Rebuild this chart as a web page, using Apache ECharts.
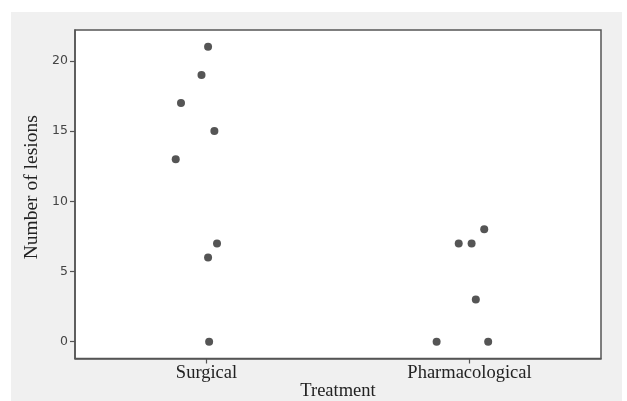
<!DOCTYPE html>
<html>
<head>
<meta charset="utf-8">
<script src="https://cdn.jsdelivr.net/npm/echarts@6/dist/echarts.min.js"></script>
<style>
html,body{margin:0;padding:0;background:#fff;}
#c{width:627px;height:401px;}
</style>
</head>
<body>
<div id="c"></div>
<script>
// Data
const categories = ['Surgical', 'Pharmacological'];
const surgicalValues = [21, 19, 17, 15, 13, 7, 6, 0];
const surgicalJitter = [0.006, -0.019, -0.097, 0.030, -0.117, 0.040, 0.006, 0.010];
const pharmValues = [8, 7, 7, 3, 0, 0];
const pharmJitter = [0.056, -0.041, 0.008, 0.024, -0.125, 0.071];
const yTicks = [0, 5, 10, 15, 20];

function pts(vals, jit, catIndex) {
  return vals.map((v, i) => [catIndex + 1 + jit[i], v]);
}

const chart = echarts.init(document.getElementById('c'), null, {renderer: 'canvas'});
const serif = '"Liberation Serif", "Times New Roman", serif';
const axisColor = '#555';
chart.setOption({
  animation: false,
  backgroundColor: '#fff',
  graphic: [{
    type: 'rect', z: -10, silent: true,
    shape: {x: 11, y: 12, width: 611, height: 389},
    style: {fill: '#f0f0f0'}
  }],
  grid: {
    left: 75, top: 30, right: 26, bottom: 42.5,
    containLabel: false, outerBoundsMode: 'none',
    show: true, backgroundColor: '#fff', borderColor: axisColor, borderWidth: 1.5
  },
  xAxis: {
    type: 'value', min: 0.5, max: 2.5, interval: 0.5,
    name: 'Treatment', nameLocation: 'middle', nameGap: 23, nameMoveOverlap: false,
    nameTextStyle: {fontFamily: serif, fontSize: 18.5, color: '#222'},
    splitLine: {show: false},
    axisLine: {show: true, onZero: false, lineStyle: {color: axisColor, width: 1.5}},
    axisTick: {show: true, length: 5, customValues: [1, 2], lineStyle: {color: axisColor, width: 1.2}},
    axisLabel: {
      customValues: [1, 2], margin: 5,
      fontFamily: serif, fontSize: 18.5, color: '#222',
      formatter: v => categories[Math.round(v) - 1] || ''
    }
  },
  yAxis: {
    type: 'value', min: -1.2, max: 22.2,
    name: 'Number of lesions', nameLocation: 'middle', nameGap: 33, nameRotate: 90, nameMoveOverlap: false,
    nameTextStyle: {fontFamily: serif, fontSize: 19.5, color: '#222', padding: [0, 0, 0, 14]},
    splitLine: {show: false},
    axisLine: {show: true, onZero: false, lineStyle: {color: axisColor, width: 1.5}},
    axisTick: {show: true, length: 5, customValues: yTicks, lineStyle: {color: axisColor, width: 1.2}},
    axisLabel: {
      customValues: yTicks, margin: 7,
      fontFamily: '"DejaVu Sans", Verdana, sans-serif', fontSize: 12.5, color: '#444'
    }
  },
  series: [
    {type: 'scatter', name: categories[0], data: pts(surgicalValues, surgicalJitter, 0),
     symbolSize: 8, itemStyle: {color: '#555', opacity: 1}},
    {type: 'scatter', name: categories[1], data: pts(pharmValues, pharmJitter, 1),
     symbolSize: 8, itemStyle: {color: '#555', opacity: 1}}
  ]
});
</script>
</body>
</html>
